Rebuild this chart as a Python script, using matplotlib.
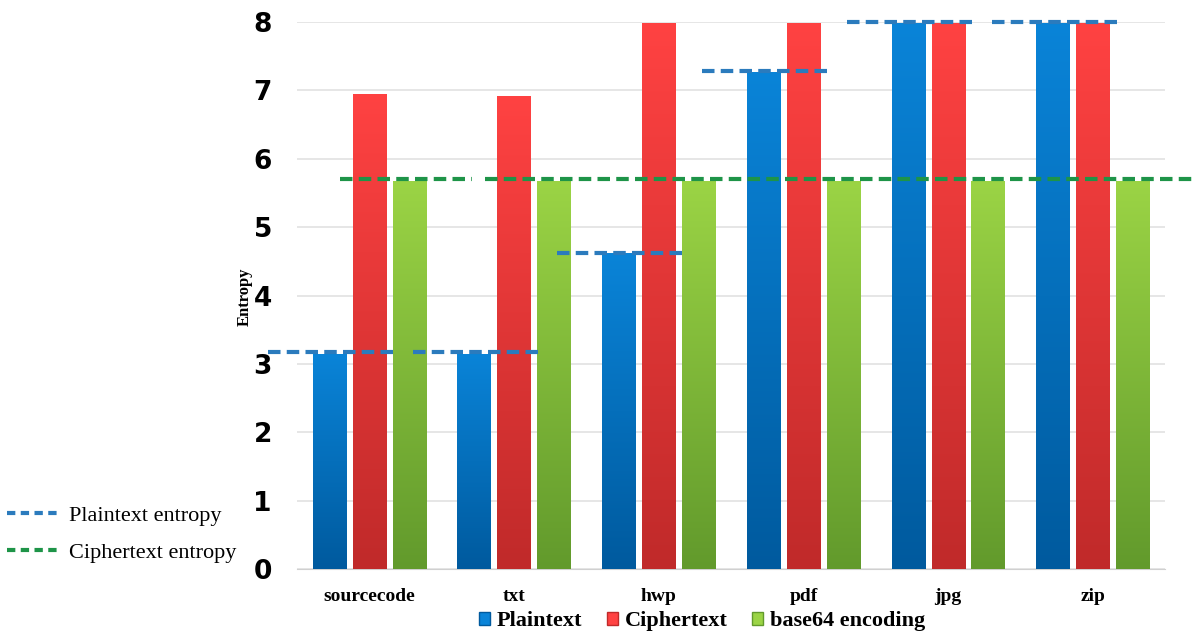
import numpy as np
import matplotlib.pyplot as plt
from matplotlib.colors import LinearSegmentedColormap
from matplotlib.lines import Line2D
from matplotlib.patches import Patch

categories = ['sourcecode', 'txt', 'hwp', 'pdf', 'jpg', 'zip']
plaintext = [3.15, 3.15, 4.62, 7.27, 7.98, 7.99]
ciphertext = [6.95, 6.92, 7.99, 7.99, 7.99, 7.99]
base64 = [5.68, 5.68, 5.68, 5.68, 5.68, 5.68]
plain_entropy = [3.17, 3.17, 4.62, 7.28, 8.0, 8.0]
cipher_entropy = 5.7

series = [('Plaintext', plaintext, ('#0a84d8', '#005a9e')),
          ('Ciphertext', ciphertext, ('#ff4242', '#c02a2a')),
          ('base64 encoding', base64, ('#9bd445', '#629a2c'))]

fig = plt.figure(figsize=(12, 6.39), dpi=100)
ax = fig.add_axes([0.2475, 0.1095, 0.7235, 0.856])

x = np.arange(len(categories))
w = 0.23
step = 0.276
grad = np.linspace(0, 1, 256).reshape(-1, 1)

for i, (name, vals, (c_top, c_bot)) in enumerate(series):
    cmap = LinearSegmentedColormap.from_list(name, [c_bot, c_top])
    bars = ax.bar(x + (i - 1) * step, vals, w, color=c_top, zorder=2,
                  edgecolor='none')
    for b in bars:
        bx = b.get_x()
        im = ax.imshow(grad, cmap=cmap, aspect='auto', origin='lower',
                       extent=[bx, bx + b.get_width(), 0, b.get_height()],
                       zorder=3)
        im.set_clip_path(b)

# plaintext entropy reference lines
for xi, v in zip(x, plain_entropy):
    ax.plot([xi - 0.7, xi + 0.2], [v, v], color='#2b7bbd', lw=3,
            ls=(0, (3, 1.5)), zorder=4, clip_on=False)
# ciphertext entropy reference line
ax.plot([-0.2, 0.71], [cipher_entropy] * 2, color='#1e9448', lw=3,
        ls=(0, (3, 1.5)), zorder=4, clip_on=False)
ax.plot([0.8, 5.69], [cipher_entropy] * 2, color='#1e9448', lw=3,
        ls=(0, (3, 1.5)), zorder=4, clip_on=False)

ax.set_xlim(-0.5, len(categories) - 0.5)
ax.set_ylim(0, 8)
ax.set_yticks(range(9))
ax.yaxis.grid(True, color='#e2e2e2', lw=1.2, zorder=0)
ax.set_axisbelow(True)
for s in ['top', 'right', 'left']:
    ax.spines[s].set_visible(False)
ax.spines['bottom'].set_color('#d0d0d0')
ax.tick_params(axis='y', length=0, pad=18, labelsize=19)
ax.tick_params(axis='x', length=0, pad=14)
for lab in ax.get_yticklabels():
    lab.set_fontweight('bold')
    lab.set_family('DejaVu Sans')
ax.set_xticks(x)
ax.set_xticklabels(categories, family='Liberation Serif', fontweight='bold',
                   fontsize=14)

fig.text(0.204, 0.535, 'Entropy', rotation=90, family='Liberation Serif',
         fontweight='bold', fontsize=12, ha='center', va='center')

handles = [Patch(facecolor=c[0], edgecolor=c[1]) for _, _, c in series]
fig.legend(handles, [s[0] for s in series], loc='center', ncol=3,
           bbox_to_anchor=(0.585, 0.028), frameon=False,
           prop={'family': 'Liberation Serif', 'weight': 'bold', 'size': 16},
           handlelength=0.5, handleheight=0.5, handletextpad=0.3,
           columnspacing=1.1)

line_handles = [Line2D([], [], color='#2b7bbd', lw=3, ls=(0, (2, 1.3))),
                Line2D([], [], color='#1e9448', lw=3, ls=(0, (2, 1.3)))]
fig.legend(line_handles, ['Plaintext entropy', 'Ciphertext entropy'],
           loc='center left', bbox_to_anchor=(-0.011, 0.164), frameon=False,
           prop={'family': 'Liberation Serif', 'size': 16},
           handlelength=2.3, handletextpad=0.5, labelspacing=0.75)

fig.savefig('out.png', dpi=100)
